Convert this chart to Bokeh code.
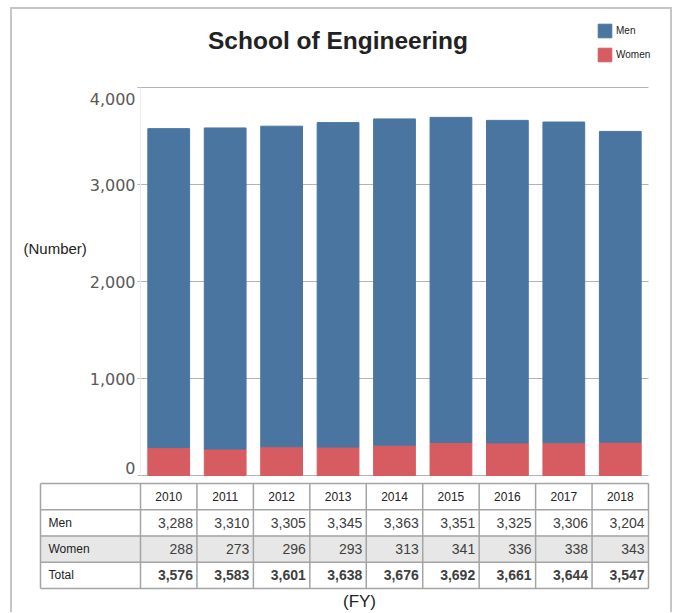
from bokeh.plotting import figure
from bokeh.layouts import column, row
from bokeh.models import (ColumnDataSource, Range1d, Label, Legend, LegendItem, Spacer)
from bokeh.core.properties import value
from bokeh.embed import file_html
from bokeh.resources import INLINE

# ---------------- data ----------------
years = ["2010", "2011", "2012", "2013", "2014", "2015", "2016", "2017", "2018"]
men = [3288, 3310, 3305, 3345, 3363, 3351, 3325, 3306, 3204]
women = [288, 273, 296, 293, 313, 341, 336, 338, 343]
y_ticks = [0, 1000, 2000, 3000, 4000]
row_labels = ["Men", "Women", "Total"]
series_names = ["Men", "Women"]
title_text = "School of Engineering"
y_title = "(Number)"
x_title = "(FY)"

totals = [m + w for m, w in zip(men, women)]


def fmt(v):
    return f"{v:,}"


# ---------------- style ----------------
BLUE = "#4a75a0"
RED = "#d65c61"
GRID = "#b3b3b3"
FRAME = "#c6c6c6"
TABLE_LINE = "#a4a4a4"
TEXT = "#222222"
TICK_TEXT = "#595959"
NUM_TEXT = "#404040"

W = 658                 # canvas width of both figures
CH, TH = 470, 133       # chart / table canvas heights
PL, PR = 128, 636       # plot area left / right (canvas px)
PT, PB = 78, 466        # plot area top / bottom (canvas px)
n = len(years)
col_px = (PR - PL) / n
y_px = (PB - PT) / (y_ticks[-1] - y_ticks[0])

# shared horizontal scale: one unit = one year column, 0 = left of plot area
x_range = Range1d(-PL / col_px, (W - PL) / col_px)

# ---------------- chart ----------------
xpos = [i + 0.5 for i in range(n)]
src = ColumnDataSource(dict(x=xpos, year=years, men=men, women=women))
p = figure(width=W, height=CH, x_range=x_range,
           y_range=Range1d(-(CH - PB) / y_px, y_ticks[-1] + PT / y_px),
           min_border=0, x_axis_location=None, y_axis_location=None,
           toolbar_location=None, output_backend="svg",
           outline_line_color=None, background_fill_color="white", border_fill_color="white")
p.xgrid.visible = False
p.ygrid.visible = False

# horizontal grid lines (with a short tick to the left)
p.segment(x0=[-3 / col_px] * len(y_ticks), x1=[n] * len(y_ticks), y0=y_ticks, y1=y_ticks,
          line_color=GRID, line_width=1)
# faint axis line
p.segment(x0=[0], x1=[0], y0=[y_ticks[0]], y1=[y_ticks[-1]], line_color="#ececec", line_width=1)

rs = p.vbar_stack(["women", "men"], x="x", width=0.74, color=[RED, BLUE], source=src)

# tick labels (edge labels nudged inward as in the reference)
offs = [0] * len(y_ticks)
offs[0] = -8
offs[-1] = 11
p.text(x=[-5 / col_px] * len(y_ticks), y=y_ticks, text=[fmt(v) for v in y_ticks],
       y_offset=offs, text_align="right", text_baseline="middle",
       text_font=value("DejaVu Sans"), text_font_size="16px", text_color=TICK_TEXT)

# title
p.add_layout(Label(x=(337.5 - 140) / col_px, y=(475 - 40) / y_px, text=title_text,
                   text_align="center", text_baseline="middle",
                   text_font="Liberation Sans", text_font_style="bold",
                   text_font_size="24.5px", text_color=TEXT))
# y title
p.add_layout(Label(x=(23 - 140) / col_px, y=(475 - 248) / y_px, text=y_title,
                   text_align="left", text_baseline="middle",
                   text_font="Liberation Sans", text_font_size="15px", text_color=TEXT))

legend = Legend(items=[LegendItem(label=series_names[0], renderers=[rs[1]]),
                       LegendItem(label=series_names[1], renderers=[rs[0]])],
                location=(584, CH - 54), glyph_width=17, glyph_height=17, label_height=17,
                spacing=7, padding=0, margin=0, label_standoff=3,
                label_text_font="Liberation Sans", label_text_font_size="10px",
                label_text_color=TEXT, border_line_color=None, background_fill_alpha=0)
p.add_layout(legend)

# ---------------- table ----------------
tab_top, tab_bot = 4, 109          # canvas px of table top / bottom edge
row_px = (tab_bot - tab_top) / 4
xl = -(PL - 28) / col_px           # left edge of the label column

q = figure(width=W, height=TH, x_range=x_range,
           y_range=Range1d(-(TH - tab_bot) / row_px, 4 + tab_top / row_px),
           min_border=0, x_axis_location=None, y_axis_location=None, toolbar_location=None,
           output_backend="svg", outline_line_color=None,
           background_fill_color="white", border_fill_color="white")
q.xgrid.visible = False
q.ygrid.visible = False

q.quad(left=[xl], right=[n], bottom=[1], top=[2], color="#e7e7e7")
hy = [0, 1, 2, 3, 4]
q.segment(x0=[xl] * 5, x1=[n] * 5, y0=hy, y1=hy, line_color=TABLE_LINE, line_width=1.5)
vx = [xl] + list(range(n + 1))
q.segment(x0=vx, x1=vx, y0=[0] * len(vx), y1=[4] * len(vx), line_color=TABLE_LINE, line_width=1.5)

q.text(x=xpos, y=[3.5] * n, text=years, text_align="center", text_baseline="middle",
       text_font=value("Liberation Sans"), text_font_size="12px", text_color=TEXT)
q.text(x=[xl] * 3, y=[2.5, 1.5, 0.5], text=row_labels, x_offset=8,
       text_align="left", text_baseline="middle",
       text_font=value("Liberation Sans"), text_font_size="12px", text_color=TEXT)
rx = [i + 1 for i in range(n)]
for vals, yy, style in ((men, 2.5, "normal"), (women, 1.5, "normal"), (totals, 0.5, "bold")):
    q.text(x=rx, y=[yy] * n, text=[fmt(v) for v in vals], x_offset=-4,
           text_align="right", text_baseline="middle",
           text_font=value("Liberation Sans"), text_font_size="14px",
           text_font_style=style, text_color=NUM_TEXT)

q.add_layout(Label(x=(359 - 140) / col_px, y=-(601 - 588) / row_px, text=x_title,
                   text_align="center", text_baseline="middle",
                   text_font="Liberation Sans", text_font_size="17px", text_color=TEXT))

# ---------------- frame & layout ----------------
H = CH + TH
top_gap = Spacer(width=W, height=7)
top_line = row(Spacer(width=10, height=2), Spacer(width=W + 4, height=2, background=FRAME))
body = row(Spacer(width=10, height=H),
           Spacer(width=2, height=H, background=FRAME),
           column(p, q),
           Spacer(width=2, height=H, background=FRAME))
layout = column(top_gap, top_line, body)

open("out.html", "w").write(file_html(layout, INLINE))
